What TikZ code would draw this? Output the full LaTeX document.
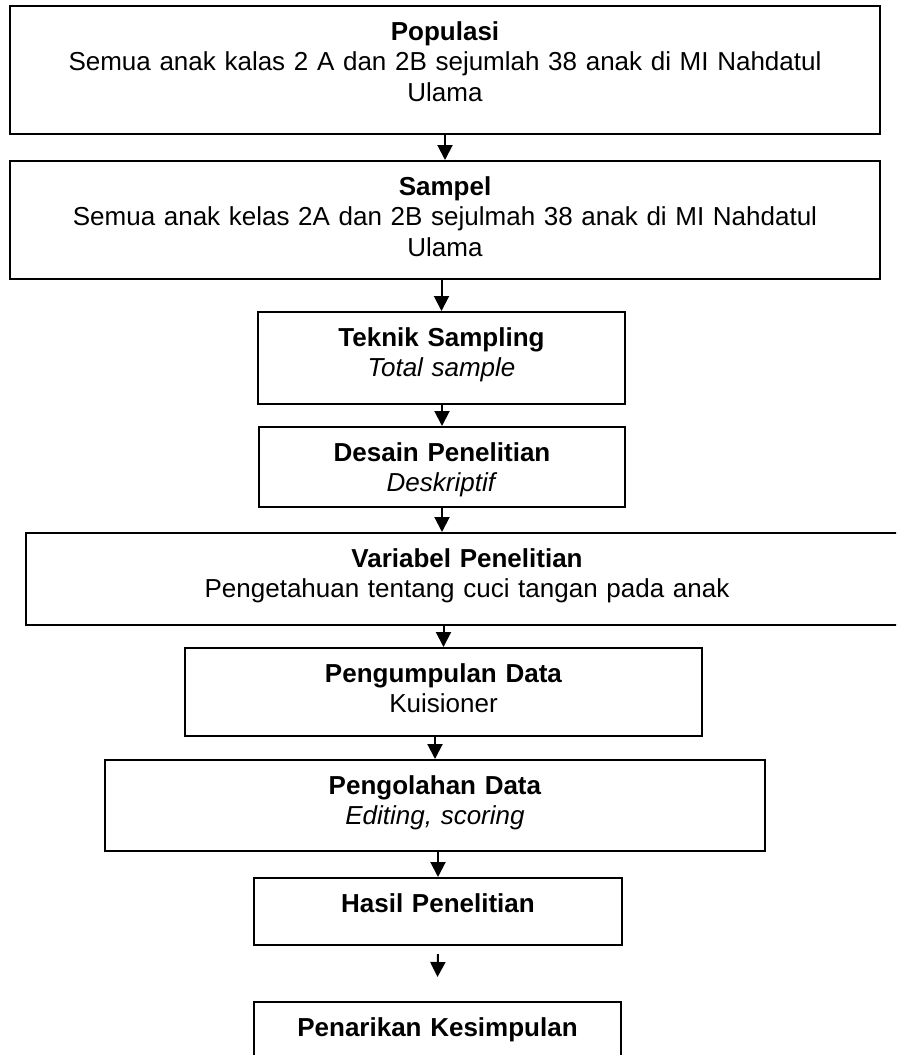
\documentclass[tikz,border=0pt]{standalone}
\usepackage{fontspec}
\setmainfont{Liberation Sans}
\usepackage{tikz}
\usetikzlibrary{arrows.meta}

\begin{document}
\begin{tikzpicture}[x=0.5pt, y=-0.5pt,
	box/.style={draw, line width=1.1pt, anchor=north, align=center, inner xsep=0pt, inner ysep=0pt, text height=17pt, font=\fontsize{13}{15.4}\selectfont},
	arrow/.style={line width=1pt, -{Triangle[width=7.5pt,length=7.5pt]}}]
				\useasboundingbox (0,0) rectangle (896,1055);
				\clip (0,0) rectangle (896,1055);
				
				% Populasi
				\node[box, text width=435pt, text depth=47pt] (pop) at (445,5) {\textbf{Populasi}\\Semua anak kalas 2 A dan 2B sejumlah 38 anak di MI Nahdatul\\Ulama};
				
				% Sampel
				\node[box, text width=435pt, text depth=42pt] (sam) at (445,160) {\textbf{Sampel}\\Semua anak kelas 2A dan 2B sejulmah 38 anak di MI Nahdatul\\Ulama};
				
				% Teknik sampling
				\node[box, text width=183.5pt, text depth=29pt] (tek) at (441.5,311) {\textbf{Teknik Sampling}\\\textit{Total sample}};
				
				% Desain
				\node[box, text width=183pt, text depth=23pt] (des) at (442,426) {\textbf{Desain Penelitian}\\\textit{Deskriptif}};
				
				% Variabel
				\node[box, text width=441pt, text depth=29pt] (var) at (467,532) {\textbf{Variabel Penelitian}\\Pengetahuan tentang cuci tangan pada anak};
				
				% Pengumpulan
				\node[box, text width=258.5pt, text depth=27pt] (kum) at (443.5,647) {\textbf{Pengumpulan Data}\\Kuisioner};
				
				% Pengolahan
				\node[box, text width=330pt, text depth=28.5pt] (olah) at (435,759) {\textbf{Pengolahan Data}\\\textit{Editing, scoring}};
				
				% Hasil
				\node[box, text width=184pt, text depth=16.5pt] (hasil) at (438,877) {\textbf{Hasil Penelitian}};
				
				% Kesimpulan
				\node[box, text width=183.5pt, text depth=16.5pt] (kes) at (437.5,1001) {\textbf{Penarikan Kesimpulan}};
				
				% Arrows
				\draw[arrow] (sam.north |- pop.south) -- (sam.north);
				\draw[arrow] (tek.north |- sam.south) -- (tek.north);
				\draw[arrow] (des.north |- tek.south) -- (des.north);
				\draw[arrow] (des.south) -- (des.south |- var.north);
				\draw[arrow] (kum.north |- var.south) -- (kum.north);
				\draw[arrow] (olah.north |- kum.south) -- (olah.north);
				\draw[arrow] (hasil.north |- olah.south) -- (hasil.north);
				
				\coordinate (h1) at ([yshift=-4pt]hasil.south);
				\coordinate (h2) at ([yshift=12pt]kes.north);
				\draw[arrow] (h1) -- (h2);
			\end{tikzpicture}
\end{document}
